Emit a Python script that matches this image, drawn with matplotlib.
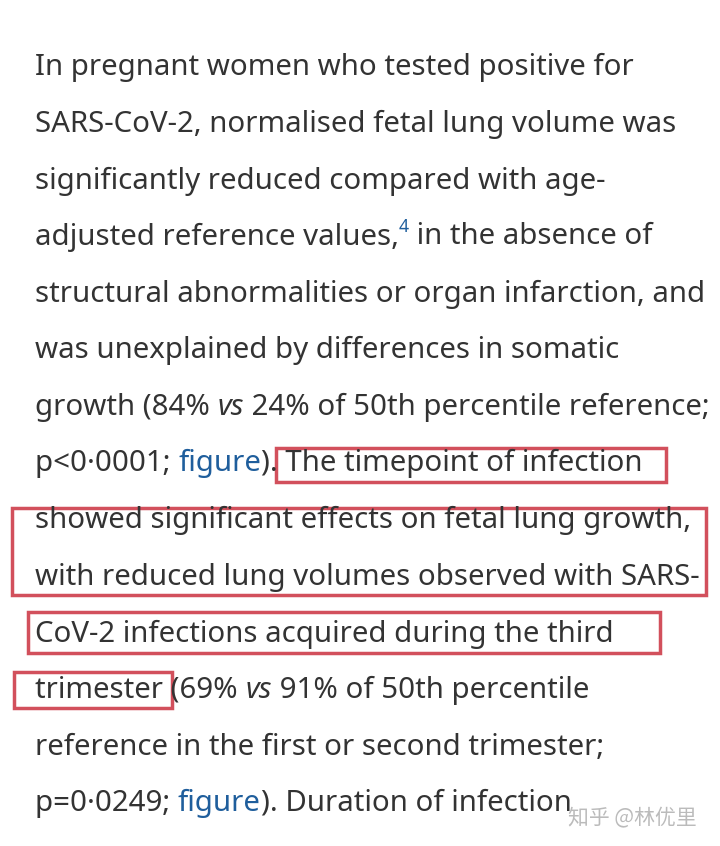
import matplotlib
matplotlib.use("Agg")
import matplotlib.pyplot as plt
from matplotlib.patches import Rectangle

W, H = 720, 846
TEXT = "#333333"
LINK = "#1f5e9c"
RED = "#d2505c"

# Each line: list of (text, style) ; style: n normal, i italic, l link, s superscript link
lines = [
    [("In pregnant women who tested positive for", "n")],
    [("SARS-CoV-2, normalised fetal lung volume was", "n")],
    [("significantly reduced compared with age-", "n")],
    [("adjusted reference values,", "n"), ("4", "s"), (" in the absence of", "n")],
    [("structural abnormalities or organ infarction, and", "n")],
    [("was unexplained by differences in somatic", "n")],
    [("growth (84% ", "n"), ("vs", "i"), (" 24% of 50th percentile reference;", "n")],
    [("p<0·0001; ", "n"), ("figure", "l"), ("). The timepoint of infection", "n")],
    [("showed significant effects on fetal lung growth,", "n")],
    [("with reduced lung volumes observed with SARS-", "n")],
    [("CoV-2 infections acquired during the third", "n")],
    [("trimester (69% ", "n"), ("vs", "i"), (" 91% of 50th percentile", "n")],
    [("reference in the first or second trimester;", "n")],
    [("p=0·0249; ", "n"), ("figure", "l"), ("). Duration of infection", "n")],
]
line_y = [67, 124, 181, 237, 294, 350, 407, 463, 520, 577, 634, 690, 747, 803]
boxes = [(276, 448, 666, 482), (12, 508, 706, 595), (28, 612, 660, 653), (14, 672, 172, 708)]

fig = plt.figure(figsize=(W / 100, H / 100), dpi=100)
fig.patch.set_facecolor("white")
fig.canvas.draw()
r = fig.canvas.get_renderer()
FS = 21.2
FAM = ["Noto Sans", "DejaVu Sans"]

for segs, yc in zip(lines, line_y):
    x = 35
    for txt, st in segs:
        kw = dict(fontsize=FS, family=FAM, color=TEXT, va="center", ha="left")
        y = yc
        if st == "i":
            kw["style"] = "italic"
        elif st == "l":
            kw["color"] = LINK
        elif st == "s":
            kw["color"] = LINK
            kw["fontsize"] = FS * 0.6
            y = yc - 10
        t = fig.text(x / W, 1 - y / H, txt, **kw)
        bb = t.get_window_extent(renderer=r)
        x += bb.width

for x0, y0, x1, y1 in boxes:
    fig.patches.append(Rectangle((x0 / W, 1 - y1 / H), (x1 - x0) / W, (y1 - y0) / H,
                                 transform=fig.transFigure, fill=False, edgecolor=RED, linewidth=2.5))

fig.text(568 / W, 1 - 818 / H, "知乎 @林优里", fontsize=15, color="#bbbbbb",
         family=["Noto Sans CJK SC", "DejaVu Sans"], va="center", ha="left")

fig.savefig("out.png", dpi=100, facecolor="white")
